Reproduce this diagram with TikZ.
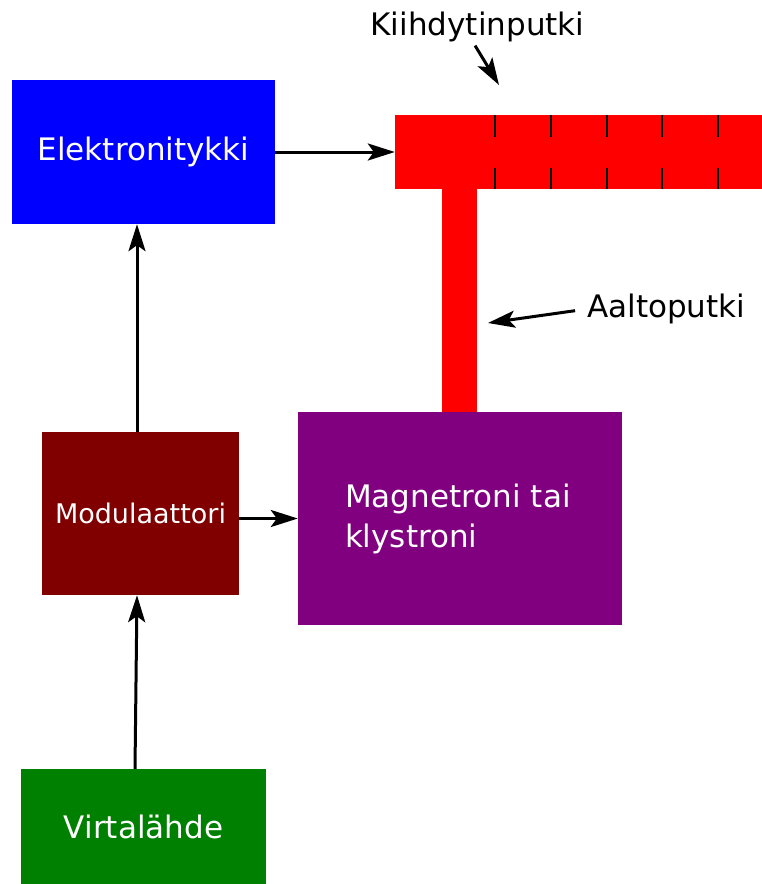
\documentclass[tikz,border=0pt]{standalone}
\usepackage{fontspec}
\setmainfont{DejaVu Sans}
\usepackage{tikz}
\usetikzlibrary{arrows.meta}
\definecolor{gunblue}{RGB}{0,0,255}
\definecolor{pipered}{RGB}{255,0,0}
\definecolor{magpurple}{RGB}{128,0,128}
\definecolor{modred}{RGB}{128,0,0}
\definecolor{powergreen}{RGB}{0,128,0}
\tikzstyle{block} = [rectangle,inner sep=0pt,text=white,font=\fontsize{31}{40}\selectfont]
\tikzstyle{pipe} = [rectangle,fill=pipered,inner sep=0pt]
\tikzstyle{caption} = [inner sep=0pt,font=\fontsize{31}{40}\selectfont]
\tikzstyle{connector} = [-{Stealth[length=27pt,width=17pt,inset=6pt]},line width=3pt]

\begin{document}
\begin{tikzpicture}[x=1pt,y=-1pt]
	\useasboundingbox (0,0) rectangle (762,884);

	  \node[block, fill=gunblue, minimum width=263pt, minimum height=144pt] (gun) at (143.5,152) {Elektronitykki};

	  \node[pipe, minimum width=367pt, minimum height=74pt] (tube) at (578.5,152) {};
	  \node[pipe, minimum width=35pt, minimum height=223pt] (guide) at (459.5,300.5) {};
	  \foreach \x in {495,551,607,662,718}
	  	\draw[line width=1.3pt] (\x,115) -- (\x,137) (\x,168) -- (\x,189);

	  \node[block, fill=magpurple, minimum height=213pt, text width=230pt, inner xsep=47pt, align=left] (mag) at (460,518.5) {Magnetroni tai\\klystroni};

	  \node[block, fill=modred, minimum width=197pt, minimum height=163pt, font=\fontsize{27}{32}\selectfont] (mod) at (140.5,513.5) {Modulaattori};

	  \node[block, fill=powergreen, minimum width=245pt, minimum height=115pt] (power) at (143.5,826.5) {Virtalähde};

	  \node[caption] (tubelabel) at (477.5,27) {Kiihdytinputki};
	  \coordinate (tubetip) at (499,85);
	  \node[caption, anchor=west] (guidelabel) at (587,309) {Aaltoputki};
	  \coordinate (guidetip) at (488,323);

	% now link the nodes

	\draw [connector] (gun) -- (tube);
	\draw [connector] ([xshift=-3.5pt]mod.north) -- ([xshift=-3.5pt]mod.north |- gun.south);
	\draw [connector] (mod.east |- mag.west) -- (mag.west);
	\draw [connector] ([xshift=-8.5pt]power.north) -- ([xshift=-3.5pt]mod.south);
	\draw [connector, shorten <=4pt] (tubelabel.south -| 473,0) -- (tubetip);
	\draw [connector, shorten <=12pt] (guidelabel.west) -- (guidetip);

  \end{tikzpicture}
\end{document}
